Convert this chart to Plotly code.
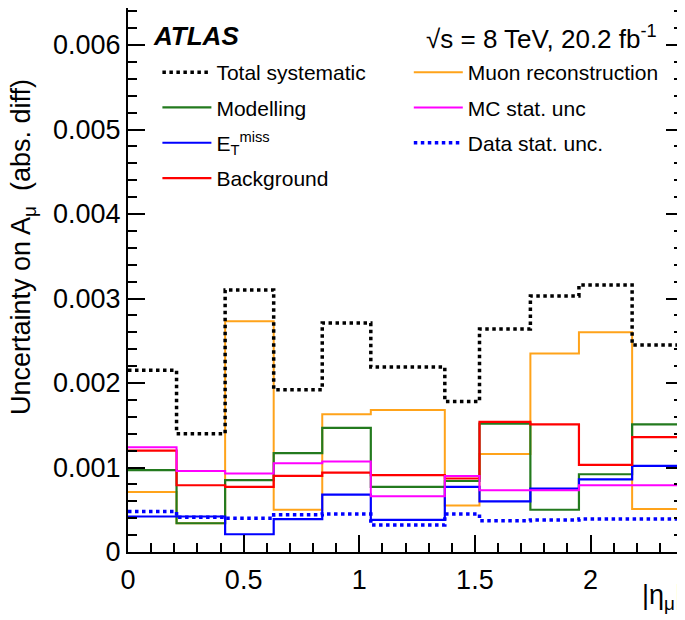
import plotly.graph_objects as go

# |eta_mu| bin edges
bin_edges = [0.0, 0.21, 0.42, 0.63, 0.84, 1.05, 1.37, 1.52, 1.74, 1.95, 2.18, 2.4]

total_syst = [0.00215, 0.00140, 0.00310, 0.00192, 0.00271, 0.00219, 0.00178, 0.00264, 0.00303, 0.00316, 0.00245]
muon_reco = [0.00071, 0.00034, 0.00273, 0.00050, 0.00163, 0.00168, 0.00055, 0.00116, 0.00235, 0.00260, 0.00051]
modelling = [0.00097, 0.00034, 0.00085, 0.00117, 0.00147, 0.00077, 0.00084, 0.00152, 0.00050, 0.00092, 0.00151]
etmiss = [0.00042, 0.00042, 0.00021, 0.00039, 0.00068, 0.00038, 0.00077, 0.00060, 0.00075, 0.00086, 0.00102]
background = [0.00120, 0.00079, 0.00077, 0.00090, 0.00094, 0.00091, 0.00087, 0.00154, 0.00151, 0.00103, 0.00136]
mc_stat = [0.00124, 0.00096, 0.00093, 0.00105, 0.00107, 0.00066, 0.00090, 0.00073, 0.00073, 0.00079, 0.00079]
data_stat = [0.00048, 0.00041, 0.00040, 0.00044, 0.00045, 0.00032, 0.00045, 0.00037, 0.00038, 0.00039, 0.00039]

y_tick_vals = [0, 0.001, 0.002, 0.003, 0.004, 0.005, 0.006]
y_tick_text = ["0", "0.001", "0.002", "0.003", "0.004", "0.005", "0.006"]
x_tick_vals = [0, 0.5, 1, 1.5, 2]
x_tick_text = ["0", "0.5", "1", "1.5", "2"]

FONT = "Liberation Sans, Arial, Helvetica, sans-serif"

# The page body has an 8 px margin, so the figure is 8 px smaller than the window.
W, H = 677, 612
ML, MR, MT, MB = 120, 2, 0, 68
PW, PH = W - ML - MR, H - MT - MB


def px(xp):
    return (xp - 8 - ML) / PW


def py(yp):
    return 1 - (yp - 8 - MT) / PH


series = [
    # name, values, color, width, dash, legend, rank
    ("Muon reconstruction", muon_reco, "#ffa31a", 2, "solid", "legend2", 1),
    ("Modelling", modelling, "#237a1e", 2.2, "solid", "legend", 2),
    ("E<sub>T</sub><sup>miss</sup>", etmiss, "#0000ff", 2.2, "solid", "legend", 3),
    ("Background", background, "#ff0000", 2.2, "solid", "legend", 4),
    ("MC stat. unc", mc_stat, "#ff00ff", 2, "solid", "legend2", 2),
    ("Data stat. unc.", data_stat, "#0000ff", 3.5, "dot", "legend2", 3),
    ("Total systematic", total_syst, "#000000", 3.5, "dot", "legend", 1),
]

fig = go.Figure()
for i, (name, vals, color, width, dash, leg, rank) in enumerate(series):
    fig.add_trace(go.Scatter(
        x=bin_edges,
        y=list(vals) + [vals[-1]],
        mode="lines",
        line=dict(shape="hv", color=color, width=width, dash=dash),
        name=name,
        legend=leg,
        legendrank=rank,
        legendgroup="g%d" % i,
        hoverinfo="skip",
    ))

legend_common = dict(
    font=dict(family=FONT, size=21, color="black"),
    bgcolor="rgba(0,0,0,0)",
    borderwidth=0,
    orientation="v",
    tracegroupgap=5,
    itemwidth=49,
    yanchor="top",
    xanchor="left",
    itemclick=False,
)

fig.update_layout(
    width=W,
    height=H,
    margin=dict(l=ML, r=MR, t=MT, b=MB, autoexpand=False),
    paper_bgcolor="white",
    plot_bgcolor="white",
    font=dict(family=FONT, size=27, color="black"),
    showlegend=True,
    legend=dict(x=px(157.4), y=py(52), **legend_common),
    legend2=dict(x=px(408.8), y=py(52), **legend_common),
    xaxis=dict(
        range=[0, 2.4],
        showgrid=False,
        zeroline=False,
        showline=True,
        linecolor="black",
        linewidth=2,
        mirror=False,
        ticks="inside",
        ticklen=17,
        tickwidth=1.5,
        tickcolor="black",
        tickvals=x_tick_vals,
        ticktext=x_tick_text,
        tickfont=dict(family=FONT, size=27),
        ticklabelstandoff=3,
        minor=dict(dtick=0.1, tick0=0, ticks="inside", ticklen=9, tickwidth=1.5, tickcolor="black"),
    ),
    yaxis=dict(
        range=[0, PH / 84.5 * 0.001],
        showgrid=False,
        zeroline=False,
        showline=True,
        linecolor="black",
        linewidth=2,
        mirror="ticks",
        ticks="inside",
        ticklen=17,
        tickwidth=1.5,
        tickcolor="black",
        tickvals=y_tick_vals,
        ticktext=y_tick_text,
        tickfont=dict(family=FONT, size=27),
        minor=dict(dtick=0.0002, tick0=0, ticks="inside", ticklen=9, tickwidth=1.5, tickcolor="black"),
    ),
)

fig.add_annotation(
    text="Uncertainty on A<sub>μ</sub>&nbsp; (abs. diff)",
    xref="paper", yref="paper", x=px(23), y=py(247),
    xanchor="center", yanchor="middle", textangle=-90,
    showarrow=False, font=dict(family=FONT, size=27),
)
fig.add_annotation(
    text="|η<sub>μ</sub>|",
    xref="paper", yref="paper", x=px(684), y=py(597),
    xanchor="right", yanchor="middle",
    showarrow=False, font=dict(family=FONT, size=27),
)
fig.add_annotation(
    text="<b><i>ATLAS</i></b>",
    xref="paper", yref="paper", x=px(151), y=py(36),
    xanchor="left", yanchor="middle",
    showarrow=False, font=dict(family=FONT, size=26),
)
fig.add_annotation(
    text="√s = 8 TeV, 20.2 fb<sup>-1</sup>",
    xref="paper", yref="paper", x=px(659), y=py(37),
    xanchor="right", yanchor="middle",
    showarrow=False, font=dict(family=FONT, size=26),
)

fig.write_html("out.html")
